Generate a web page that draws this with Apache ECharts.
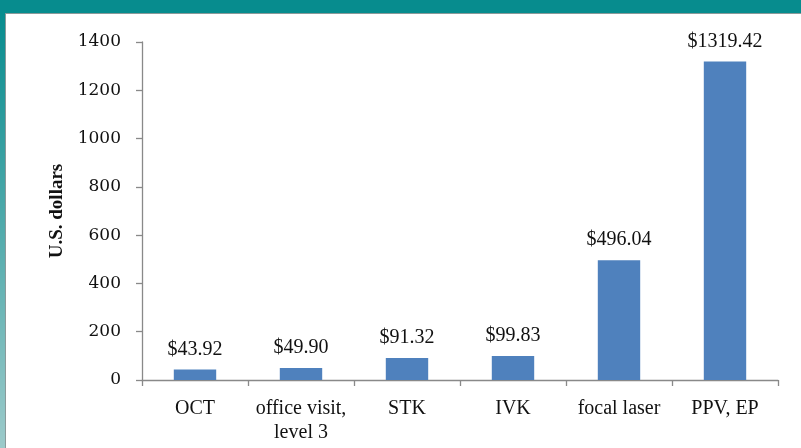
<!DOCTYPE html>
<html>
<head>
<meta charset="utf-8">
<script src="https://cdn.jsdelivr.net/npm/echarts@6/dist/echarts.min.js"></script>
<style>
  html, body { margin: 0; padding: 0; background: #fff; }
  #chart { position: absolute; left: 0; top: 0; width: 801px; height: 448px; background: #fff; }
  #topband { position: absolute; left: 0; top: 0; width: 801px; height: 13px; background: #078c8e; border-bottom: 1px solid #8a9a9a; }
  #leftband { position: absolute; left: 0; top: 13px; width: 5px; height: 435px;
    background: linear-gradient(#078c8e, #9ccaca); border-right: 1px solid #8a9a9a; }
</style>
</head>
<body>
<div id="chart"></div>
<div id="topband"></div>
<div id="leftband"></div>
<script>
const categories = ["OCT", "office visit,\nlevel 3", "STK", "IVK", "focal laser", "PPV, EP"]
const costs = [43.92, 49.9, 91.32, 99.83, 496.04, 1319.42]
const yTicks = { min: 0, max: 1400, interval: 200 }

const serif = "Liberation Serif, Times New Roman, serif"
const tickSerif = "DejaVu Serif, serif"
const axisGray = "#898989"
const barBlue = "#4f81bd"

const chart = echarts.init(document.getElementById("chart"), null, { renderer: "canvas" })

chart.setOption({
  animation: false,
  textStyle: { fontFamily: serif, color: "#111" },
  grid: { left: 142, right: 23, top: 42, bottom: 68, containLabel: false },
  xAxis: {
    type: "category",
    data: categories,
    boundaryGap: true,
    axisLine: { lineStyle: { color: axisGray, width: 1.3 } },
    axisTick: { show: true, length: 6, lineStyle: { color: axisGray, width: 1.3 } },
    axisLabel: { color: "#111", fontFamily: serif, fontSize: 20, margin: 17, lineHeight: 24, interval: 0 },
  },
  yAxis: {
    type: "value",
    min: yTicks.min,
    max: yTicks.max,
    interval: yTicks.interval,
    name: "U.S. dollars",
    nameLocation: "middle",
    nameGap: 75,
    nameRotate: 90,
    nameTextStyle: { fontFamily: serif, fontSize: 19, fontWeight: "bold", color: "#111" },
    axisLine: { show: true, lineStyle: { color: axisGray, width: 1.3 } },
    axisTick: { show: true, length: 6, lineStyle: { color: axisGray, width: 1.3 } },
    axisLabel: { color: "#111", fontFamily: tickSerif, fontSize: 17, margin: 21, padding: [5, 0, 0, 0], formatter: (v) => String(v) },
    splitLine: { show: false },
  },
  series: [
    {
      type: "bar",
      data: costs,
      barWidth: "40%",
      itemStyle: { color: barBlue },
      label: {
        show: true,
        position: "top",
        distance: 10,
        color: "#111",
        fontFamily: serif,
        fontSize: 20,
        formatter: (p) => "$" + p.value.toFixed(2),
      },
    },
  ],
})
</script>
</body>
</html>
